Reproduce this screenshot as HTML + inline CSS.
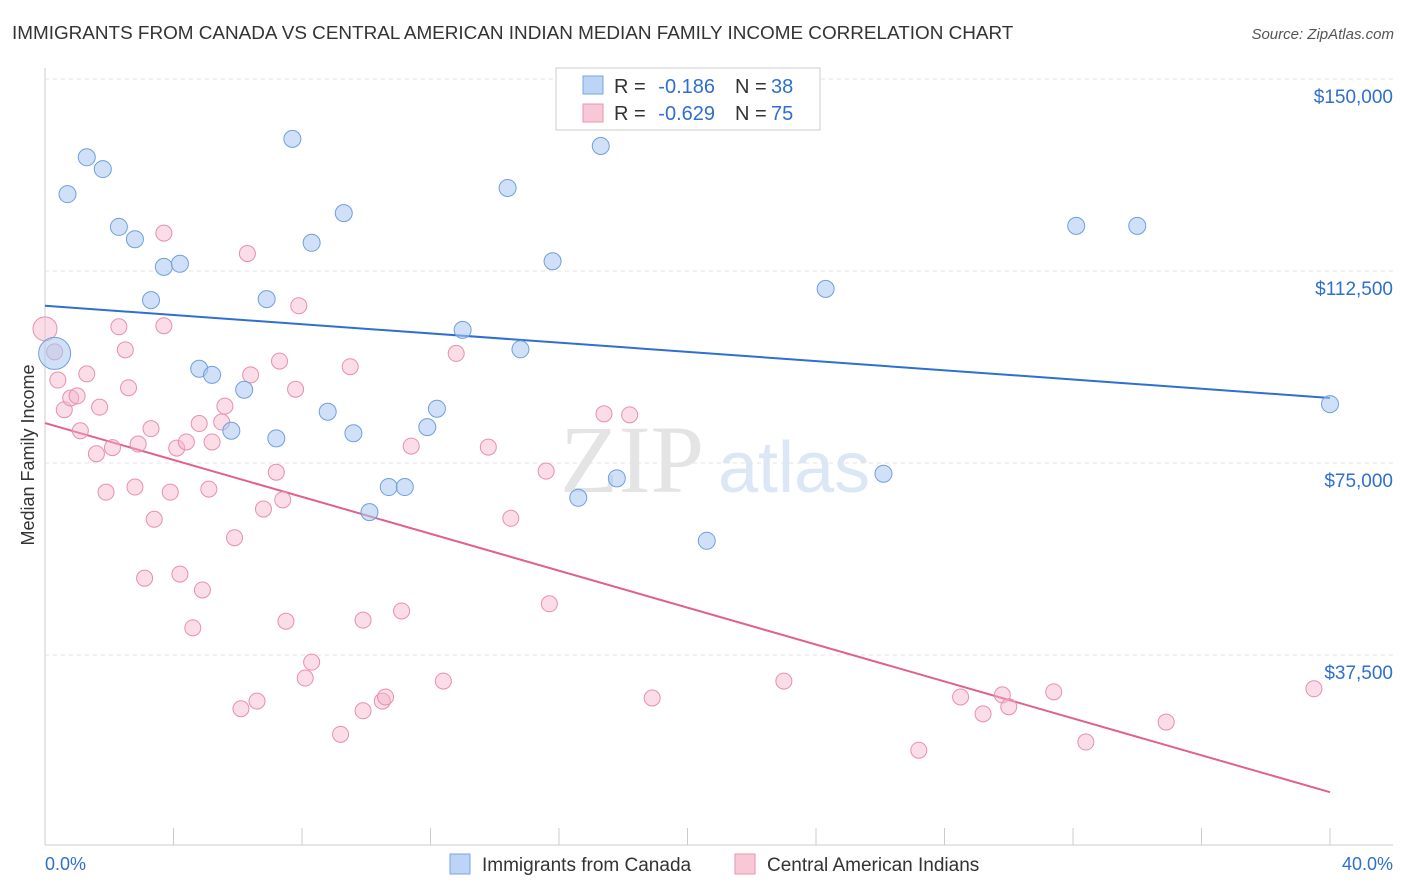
<!DOCTYPE html>
<html><head><meta charset="utf-8"><style>
body{margin:0;background:#fff;font-family:"Liberation Sans",sans-serif;}
#c{position:absolute;left:0;top:0;}
</style></head><body>
<svg id="c" width="1406" height="892">
<text x="12" y="39" font-size="18.9" fill="#333">IMMIGRANTS FROM CANADA VS CENTRAL AMERICAN INDIAN MEDIAN FAMILY INCOME CORRELATION CHART</text>
<text x="1394" y="39" font-size="15" fill="#555" font-style="italic" text-anchor="end">Source: ZipAtlas.com</text>
<text transform="translate(34,455) rotate(-90)" font-size="18" fill="#333" text-anchor="middle">Median Family Income</text>
<text x="560" y="492" font-size="96" fill="#e4e4e4" font-family="Liberation Serif">ZIP</text>
<text x="718" y="492" font-size="72" fill="#dce7f5">atlas</text>
<g id="grid"></g><g id="trend"></g><g id="pts"></g>
<g>
<rect x="556" y="68" width="264" height="62" fill="#fff" stroke="#ccc"/>
<rect x="583" y="76" width="20" height="18" fill="#bcd4f6" stroke="#7aa5e0"/>
<text x="614" y="93" font-size="20" fill="#333">R =</text>
<text x="715" y="93" font-size="20" fill="#2e6fd0" text-anchor="end">-0.186</text>
<text x="735" y="93" font-size="20" fill="#333">N =</text>
<text x="771" y="93" font-size="20" fill="#2e6fd0">38</text>
<rect x="583" y="104" width="20" height="18" fill="#f8c8d6" stroke="#e994b0"/>
<text x="614" y="120" font-size="20" fill="#333">R =</text>
<text x="715" y="120" font-size="20" fill="#2e6fd0" text-anchor="end">-0.629</text>
<text x="735" y="120" font-size="20" fill="#333">N =</text>
<text x="771" y="120" font-size="20" fill="#2e6fd0">75</text>
</g>
<g>
<rect x="450" y="854" width="20" height="20" fill="#bcd4f6" stroke="#7aa5e0"/>
<text x="482" y="871" font-size="19" fill="#333">Immigrants from Canada</text>
<rect x="735" y="854" width="20" height="20" fill="#f8c8d6" stroke="#e994b0"/>
<text x="767" y="871" font-size="19" fill="#333">Central American Indians</text>
</g>
<text x="45" y="870" font-size="18" fill="#2e6fd0">0.0%</text>
<text x="1393" y="870" font-size="18" fill="#2e6fd0" text-anchor="end">40.0%</text>
</svg>
<script>
const yTicks=[37500,75000,112500,150000];
const yTickLabels=["$37,500","$75,000","$112,500","$150,000"];
const xTicks=[0,4,8,12,16,20,24,28,32,36,40];
const canadaX=[0.3,0.7,1.3,1.8,2.3,2.8,3.3,3.7,4.2,4.8,5.2,5.8,6.2,6.9,7.2,7.7,8.3,8.8,9.3,9.6,10.1,10.7,11.2,11.9,12.2,13.0,14.4,14.8,15.8,16.6,17.3,17.8,20.6,24.3,26.1,32.1,34.0,40.0];
const canadaY=[96400,127500,134700,132400,121100,118700,106800,113300,113900,93400,92200,81300,89300,107000,79800,138300,118000,85000,123800,80800,65400,70300,70300,82000,85600,101000,128700,97200,114400,68200,136900,72000,59800,109000,72900,121300,121300,86500];
const caiX=[0,0.3,0.4,0.6,0.8,1.0,1.1,1.3,1.6,1.7,1.9,2.1,2.3,2.5,2.6,2.8,2.9,3.1,3.3,3.4,3.7,3.7,3.9,4.1,4.2,4.4,4.6,4.8,4.9,5.1,5.2,5.5,5.6,5.9,6.1,6.4,6.3,6.6,6.8,7.2,7.3,7.4,7.5,7.8,7.9,8.1,8.3,9.2,9.5,9.9,9.9,10.5,10.6,11.1,11.4,12.4,12.8,13.8,14.5,15.6,15.7,17.4,18.2,18.9,23.0,27.2,28.5,29.2,29.8,30.0,31.4,32.4,34.9,39.5];
const caiY=[101200,96700,91200,85400,87700,88100,81300,92400,76800,85900,69300,78000,101600,97100,89700,70300,78700,52500,81700,64000,119900,101800,69300,77900,53300,79100,42800,82700,50200,69900,79100,83000,86100,60400,27000,92200,115900,28500,66000,73200,94900,67800,44100,89400,105700,33000,36100,22000,93800,44300,26600,28500,29300,46100,78300,32400,96400,78100,64200,73400,47500,84600,84400,29100,32400,18900,29300,26000,29700,27400,30300,20500,24400,30900];
const trendX=[0,40];
const canadaTrend=[105700,87700];
const caiTrend=[82800,10700];
const X=v=>45+v/40*1285;
const Y=v=>847-v/195.3;
const NS="http://www.w3.org/2000/svg";
function mk(t,a,p){const e=document.createElementNS(NS,t);for(const k in a)e.setAttribute(k,a[k]);p.appendChild(e);return e;}
const grid=document.getElementById('grid');
mk('line',{x1:45,y1:68,x2:45,y2:845,stroke:'#ccc'},grid);
mk('line',{x1:45,y1:845,x2:1393,y2:845,stroke:'#ccc'},grid);
yTicks.forEach((v,i)=>{
const l=mk('line',{x1:45,y1:Y(v),x2:1393,y2:Y(v),stroke:'#e3e3e3','stroke-dasharray':'4,4'},grid);


const t=mk('text',{x:1393,y:Y(v)+24,'font-size':19,fill:'#2e6fd0','text-anchor':'end'},grid);
t.textContent=yTickLabels[i];


});
xTicks.forEach(v=>{
const l=mk('line',{x1:X(v),y1:828,x2:X(v),y2:845,stroke:'#ccc'},grid);


});
const pts=document.getElementById('pts');
caiX.forEach((v,i)=>{
const c=mk('circle',{cx:X(v),cy:Y(caiY[i]),r:i==0?12:8,fill:'rgba(245,180,202,0.45)',stroke:'#e88fae','stroke-width':1},pts);


});
canadaX.forEach((v,i)=>{
const c=mk('circle',{cx:X(v),cy:Y(canadaY[i]),r:i==0?16:8.5,fill:'rgba(170,200,240,0.55)',stroke:'#6f9fde','stroke-width':1},pts);


});
const tr=document.getElementById('trend');
const b=mk('line',{x1:X(trendX[0]),y1:Y(canadaTrend[0]),x2:X(trendX[1]),y2:Y(canadaTrend[1]),stroke:'#2e6fd0','stroke-width':2},tr);


const p=mk('line',{x1:X(trendX[0]),y1:Y(caiTrend[0]),x2:X(trendX[1]),y2:Y(caiTrend[1]),stroke:'#e0608e','stroke-width':2},tr);


</script>
</body></html>
